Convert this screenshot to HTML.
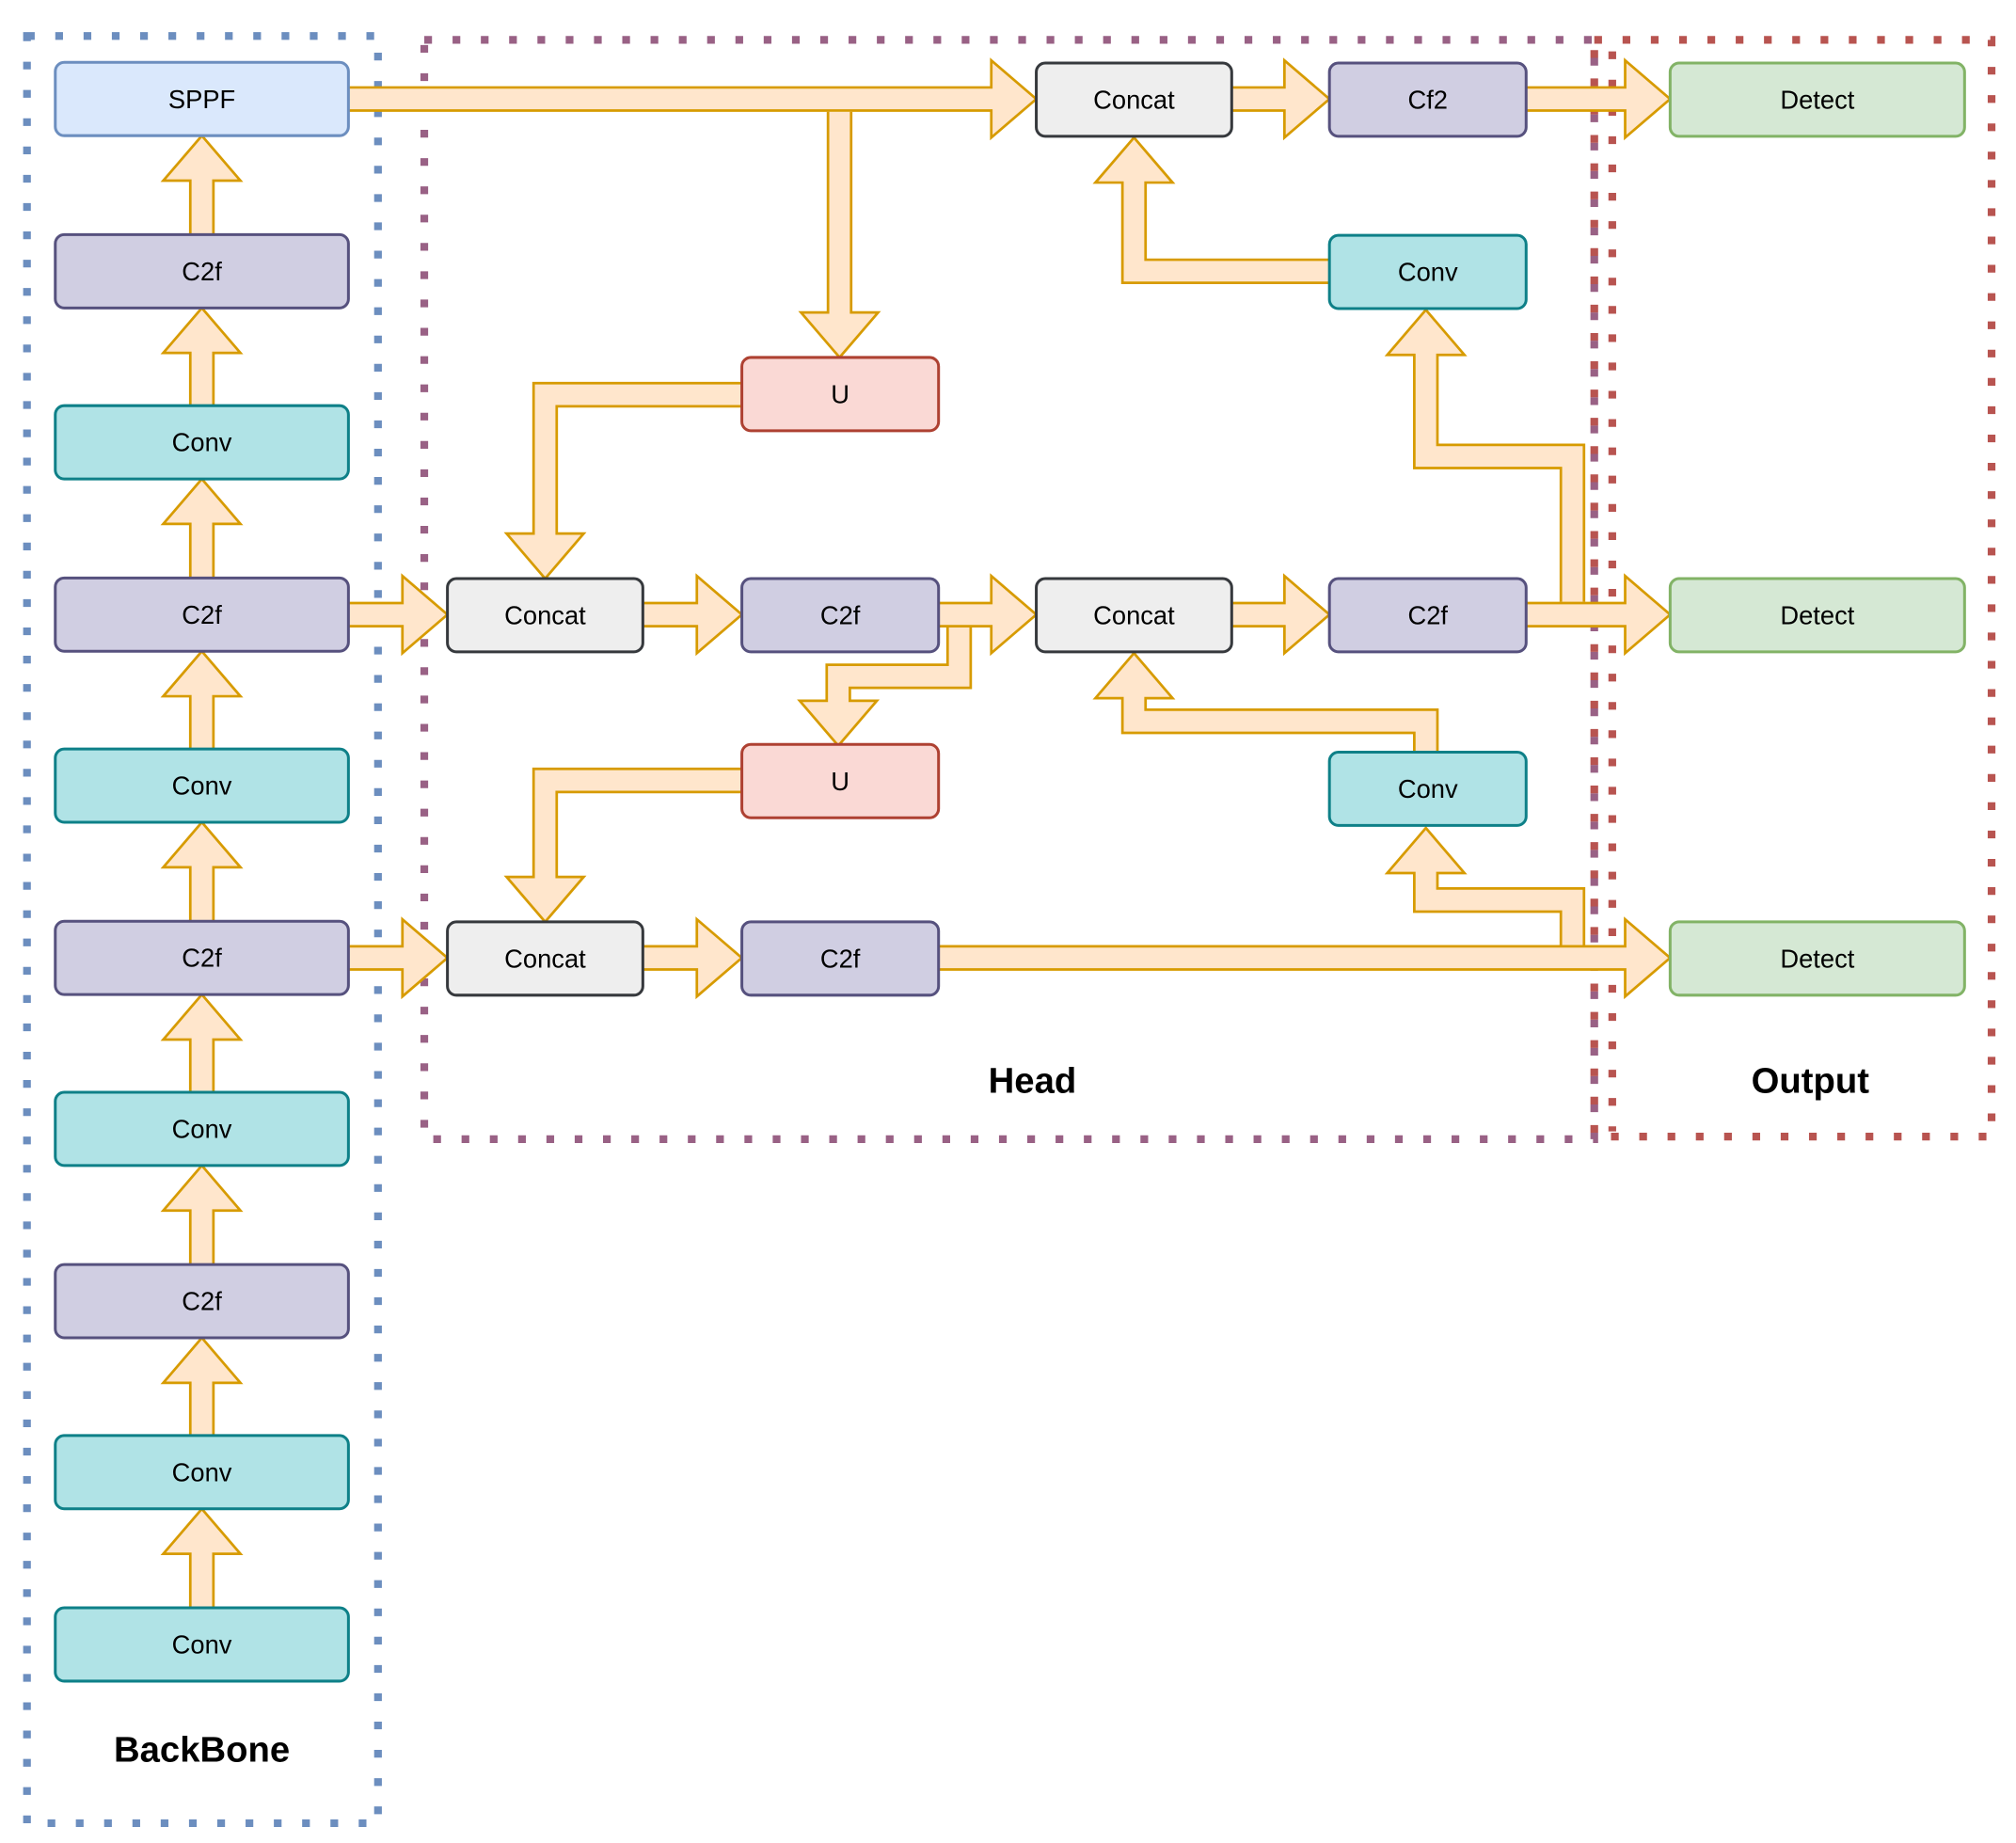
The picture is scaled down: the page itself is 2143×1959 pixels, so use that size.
<!DOCTYPE html>
<html><head><meta charset="utf-8"><style>
html,body{margin:0;padding:0;background:#fff;}
svg{display:block;}
text{font-family:"Liberation Sans",Arial,sans-serif;}
</style></head><body>
<svg id="s" width="2143" height="1959" viewBox="0 0 1568 1433.4" preserveAspectRatio="none" xmlns="http://www.w3.org/2000/svg">
<rect x="0" y="0" width="1568" height="1434" fill="#fff"/>
<g fill="none" stroke-width="6">
<rect x="21" y="28" width="273" height="1390" stroke="#6c8ebf" stroke-dasharray="6 16"/>
<rect x="330" y="31" width="910" height="855" stroke="#996185" stroke-dasharray="6 16"/>
<rect x="1240" y="31" width="309" height="853" stroke="#b85450" stroke-dasharray="6 16"/>
<line x1="1254" y1="40" x2="1254" y2="880" stroke="#b85450" stroke-dasharray="6 16"/>
</g>
<g id="arrows"></g>
<g id="boxes"></g>
<g font-weight="bold" font-size="28" text-anchor="middle" fill="#000">
<text x="157" y="1370">BackBone</text>
<text x="803" y="850">Head</text>
<text x="1408" y="850">Output</text>
</g>
</svg>
<script>
var NS="http://www.w3.org/2000/svg";
function el(p,t,a,txt){var e=document.createElementNS(NS,t);for(var k in a)e.setAttribute(k,a[k]);if(txt)e.textContent=txt;p.appendChild(e);return e;}
var A=document.getElementById('arrows'),B=document.getElementById('boxes');
function arrow(pts){
 var n=pts.length,t=pts[n-1],p=pts[n-2];
 var dx=t[0]-p[0],dy=t[1]-p[1],L=Math.hypot(dx,dy);dx/=L;dy/=L;
 var bx=t[0]-dx*35,by=t[1]-dy*35,nx=-dy,ny=dx;
 var sp=pts.slice(0,n-1).map(function(q){return q.join(',')});
 var inner=sp.concat([(bx+dx*2)+','+(by+dy*2)]).join(' ');
 var outer=sp.concat([bx+','+by]).join(' ');
 el(A,'polygon',{points:[(bx+nx*30)+','+(by+ny*30),t.join(','),(bx-nx*30)+','+(by-ny*30)].join(' '),fill:'#ffe6cc',stroke:'#d79b00','stroke-width':2,'stroke-linejoin':'miter'});
 el(A,'polyline',{points:outer,fill:'none',stroke:'#d79b00','stroke-width':20,'stroke-linejoin':'miter','stroke-linecap':'butt'});
 el(A,'polyline',{points:inner,fill:'none',stroke:'#ffe6cc','stroke-width':16,'stroke-linejoin':'miter','stroke-linecap':'butt'});
}
var C={sppf:['#dae8fc','#6c8ebf'],c2f:['#d0cee2','#56517e'],conv:['#b0e3e6','#0e8088'],cat:['#eeeeee','#36393d'],u:['#fad9d5','#ae4132'],det:['#d5e8d4','#82b366']};
function box(x,y,w,h,c,label){
 el(B,'rect',{x:x,y:y,width:w,height:h,rx:7,ry:7,fill:C[c][0],stroke:C[c][1],'stroke-width':2.2});
 el(B,'text',{x:x+w/2,y:y+h/2+7,'text-anchor':'middle','font-size':20,fill:'#000'},label);
}
// backbone
var bb=[[77,'sppf','SPPF'],[211,'c2f','C2f'],[344,'conv','Conv'],[478,'c2f','C2f'],[611,'conv','Conv'],[745,'c2f','C2f'],[878,'conv','Conv'],[1012,'c2f','C2f'],[1145,'conv','Conv'],[1279,'conv','Conv']];
for(var i=0;i<bb.length-1;i++){arrow([[157,bb[i+1][0]-28.5],[157,bb[i][0]+28.5]]);}
// head arrows
arrow([[271,77],[806,77]]);
arrow([[958,77],[1034,77]]);
arrow([[1187,77],[1299,77]]);
arrow([[653,87],[653,278]]);
arrow([[577,307],[424,307],[424,450]]);
arrow([[271,478],[348,478]]);
arrow([[500,478],[577,478]]);
arrow([[730,478],[806,478]]);
arrow([[746,488],[746,526],[652,526],[652,580]]);
arrow([[577,607],[424,607],[424,717]]);
arrow([[958,478],[1034,478]]);
arrow([[1223,468],[1223,355],[1109,355],[1109,241]]);
arrow([[1187,478],[1299,478]]);
arrow([[1034,211],[882,211],[882,107]]);
arrow([[1109,585],[1109,561],[882,561],[882,508]]);
arrow([[271,745],[348,745]]);
arrow([[500,745],[577,745]]);
arrow([[1223,735],[1223,700],[1109,700],[1109,644]]);
arrow([[730,745],[1299,745]]);
// boxes
bb.forEach(function(b){box(43,b[0]-28.5,228,57,b[1],b[2]);});
box(806,49,152,57,'cat','Concat');
box(1034,49,153,57,'c2f','Cf2');
box(1299,49,229,57,'det','Detect');
box(1034,183,153,57,'conv','Conv');
box(577,278,153,57,'u','U');
box(348,450,152,57,'cat','Concat');
box(577,450,153,57,'c2f','C2f');
box(806,450,152,57,'cat','Concat');
box(1034,450,153,57,'c2f','C2f');
box(1299,450,229,57,'det','Detect');
box(577,579,153,57,'u','U');
box(1034,585,153,57,'conv','Conv');
box(348,717,152,57,'cat','Concat');
box(577,717,153,57,'c2f','C2f');
box(1299,717,229,57,'det','Detect');
</script>
</body></html>
